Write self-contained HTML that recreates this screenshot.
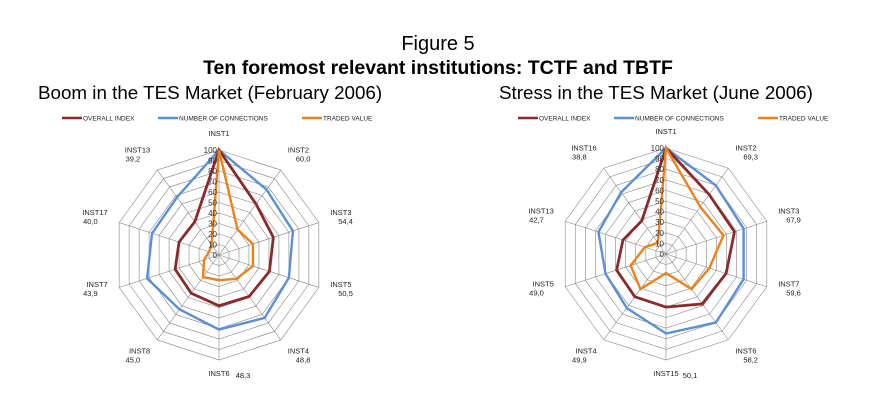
<!DOCTYPE html>
<html><head><meta charset="utf-8"><style>
body{margin:0;background:#fff;width:881px;height:409px;overflow:hidden;font-family:"Liberation Sans",sans-serif}
svg{position:absolute;left:0;top:0}
</style></head><body>
<svg width="881" height="409" id="svg">
<text x="438" y="50" font-size="20" text-anchor="middle">Figure 5</text>
<text x="438" y="74" font-size="19.5" font-weight="bold" text-anchor="middle">Ten foremost relevant institutions: TCTF and TBTF</text>
<text x="38" y="99" font-size="18.8">Boom in the TES Market (February 2006)</text>
<text x="499" y="99" font-size="18.8">Stress in the TES Market (June 2006)</text>
<g id="charts"></g>
</svg>
<script>
const leftCats=["INST1","INST2","INST3","INST5","INST4","INST6","INST8","INST7","INST17","INST13"];
const leftOverall=[100,60.0,54.4,50.5,48.8,48.3,45.0,43.9,40.0,39.2];
const leftConn=[100,77,74,70,74,71,64,72,67,68];
const leftTraded=[100,30,34,34,28,24,26,15,10,12];
const rightCats=["INST1","INST2","INST3","INST7","INST6","INST15","INST4","INST5","INST13","INST16"];
const rightOverall=[100,69.3,67.9,59.6,58.2,50.1,49.9,49.0,42.7,38.8];
const rightConn=[100,80,77,77,80,75,63,60,67,72];
const rightTraded=[100,55,57,43,41,18,41,35,21,13];
const ticks=[0,10,20,30,40,50,60,70,80,90,100];
const NS="http://www.w3.org/2000/svg";
const root=document.getElementById('charts');
function el(tag,attrs,parent){const e=document.createElementNS(NS,tag);for(const k in attrs)e.setAttribute(k,attrs[k]);parent.appendChild(e);return e;}
function fmt(v){return v.toFixed(1).replace('.',',');}
function radar(cx,cy,R,cats,overall,conn,traded,legendX,side){
  const g=el('g',{},root);
  
  
  const n=cats.length;
  const ang=i=>i*2*Math.PI/n;
  const pt=(i,v)=>[cx+Math.sin(ang(i))*R*v/100,cy-Math.cos(ang(i))*R*v/100];
  ticks.forEach(t=>{if(t===0)return;
    const p=cats.map((c,i)=>pt(i,t).join(',')).join(' ');
    const ring=el('polygon',{points:p,fill:'none',stroke:'#888','stroke-width':0.6},g);
    
    
  });
  cats.forEach((c,i)=>{const p=pt(i,100);
    const sp=el('line',{x1:cx,y1:cy,x2:p[0],y2:p[1],stroke:'#888','stroke-width':0.6},g);
    
    
  });
  const series=[[conn,'#5b8fd6','connections-line'],[overall,'#8b2a2a','overall-index-line'],[traded,'#e9831e','traded-value-line']];
  series.forEach(([vals,col,name])=>{
    const p=vals.map((v,i)=>pt(i,v).join(',')).join(' ');
    const pl=el('polygon',{points:p,fill:'none',stroke:col,'stroke-width':name==='overall-index-line'?2.8:2.4,'stroke-linejoin':'miter'},g);
    
    
  });
  ticks.forEach(t=>{const p=pt(0,t);
    const tx=el('text',{x:p[0]-2,y:p[1]+3,'font-size':8,'text-anchor':'end',fill:'#333'},g);
    tx.textContent=t;
    
    
  });
  cats.forEach((c,i)=>{
    const s=Math.sin(ang(i)),co=Math.cos(ang(i));
    const lx=cx+s*(R+12),ly=cy-co*(R+12);
    let anchor=s>0.1?'start':(s<-0.1?'end':'middle');
    let dy=co>0.5?-8:(co<-0.5?4:-4);
    if(i===0)dy=-2;
    const t=el('text',{x:lx,y:ly+dy,'font-size':7.5,'text-anchor':anchor,fill:'#222'},g);
    t.textContent=c;
    
    
    if(i>0){
      let vx=lx+(anchor==='start'?8:(anchor==='end'?-10:24)),vy=ly+dy+(anchor==='middle'?2:9);
      const v=el('text',{x:vx,y:vy,'font-size':7.5,'text-anchor':anchor,fill:'#222'},g);
      v.textContent=fmt(overall[i]);
      
      
    }
  });
  const leg=[['#8b2a2a','OVERALL INDEX',0],['#5b8fd6','NUMBER  OF CONNECTIONS',96],['#e9831e','TRADED VALUE',240]];
  leg.forEach(([col,txt,off])=>{
    const lg=el('g',{},g);
    
    
    el('line',{x1:legendX+off,y1:118,x2:legendX+off+20,y2:118,stroke:col,'stroke-width':2.5},lg);
    const t=el('text',{x:legendX+off+21,y:120.5,'font-size':6.5,fill:'#222'},lg);
    t.textContent=txt;
  });
}
radar(219,255,105,leftCats,leftOverall,leftConn,leftTraded,62,'left');
radar(666,254,106,rightCats,rightOverall,rightConn,rightTraded,518,'right');
</script>
</body></html>
